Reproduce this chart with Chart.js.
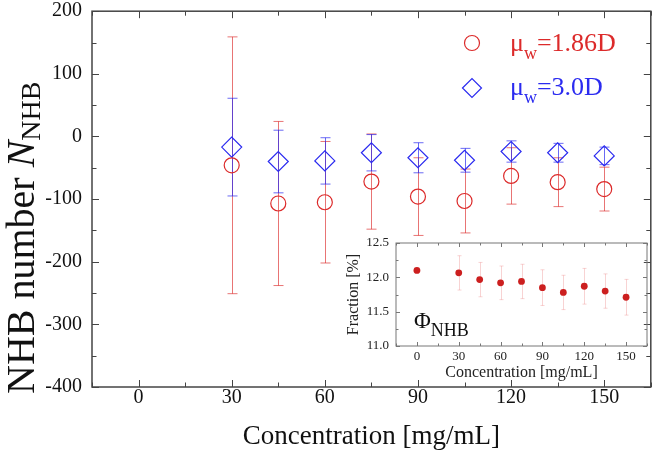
<!DOCTYPE html>
<html>
<head>
<meta charset="utf-8">
<script src="https://cdn.jsdelivr.net/npm/chart.js@4.4.1/dist/chart.umd.min.js"></script>
<style>
  html, body { margin: 0; padding: 0; background: #fff; }
  #wrap { position: relative; width: 662px; height: 466px; }
  #mainChart { position: absolute; left: 0; top: 0; }
  #insetChart { position: absolute; left: 340px; top: 232px; }
</style>
</head>
<body>
<div id="wrap">
  <canvas id="mainChart" width="662" height="466"></canvas>
  <canvas id="insetChart" width="314" height="152"></canvas>
</div>
<script>
// main panel: NHB number vs concentration
const concentrations = [30, 45, 60, 75, 90, 105, 120, 135, 150];
const nhb186 = [-46, -107, -105, -72, -96, -103, -63, -73, -84];
const nhb186Err = [205, 131, 97, 76, 62, 51, 45, 39, 35];
const nhb30 = [-17, -40, -39, -26, -34, -38, -24, -26, -31];
const nhb30Err = [78, 50, 37, 29, 24, 19, 17, 15, 14];
const xTicks = [0, 30, 60, 90, 120, 150];
const yTicks = [-400, -300, -200, -100, 0, 100, 200];

// inset: fraction of NHB
const fracConc = [0, 30, 45, 60, 75, 90, 105, 120, 135, 150];
const fraction = [12.10, 12.065, 11.967, 11.92, 11.94, 11.85, 11.78, 11.87, 11.80, 11.71];
const fractionErr = [0, 0.25, 0.25, 0.245, 0.25, 0.26, 0.25, 0.26, 0.25, 0.26];
const fracYTicks = [11.0, 11.5, 12.0, 12.5];

const RED = '#dc2a2a';
const BLUE = '#2b2bf0';
const SERIF = "'Liberation Serif', 'Times New Roman', serif";

Chart.defaults.font.family = SERIF;

// error bars drawn under the markers
const errorBars = {
  id: 'errorBars',
  beforeDatasetsDraw(chart) {
    const ctx = chart.ctx;
    const xs = chart.scales.x, ys = chart.scales.y;
    chart.data.datasets.forEach(ds => {
      if (!ds.errors) return;
      ctx.save();
      ctx.strokeStyle = ds.errorColor;
      ctx.lineWidth = 1;
      ds.data.forEach((p, i) => {
        const e = ds.errors[i];
        if (!e) return;
        const px = Math.round(xs.getPixelForValue(p.x)) + 0.5;
        const top = ys.getPixelForValue(p.y + e);
        const bot = ys.getPixelForValue(p.y - e);
        const cw = ds.capWidth;
        ctx.beginPath();
        ctx.moveTo(px, top);
        ctx.lineTo(px, bot);
        if (cw) {
          ctx.moveTo(px - cw, top); ctx.lineTo(px + cw, top);
          ctx.moveTo(px - cw, bot); ctx.lineTo(px + cw, bot);
        }
        ctx.stroke();
      });
      ctx.restore();
    });
  }
};

// box frame with inward ticks on all four sides
const frameTicks = {
  id: 'frameTicks',
  afterDatasetsDraw(chart, args, o) {
    const {ctx, chartArea: a} = chart;
    const xs = chart.scales.x, ys = chart.scales.y;
    const isMajor = (v, step) => Math.abs(v / step - Math.round(v / step)) < 1e-6;
    ctx.save();
    ctx.strokeStyle = o.color;
    ctx.lineWidth = o.width;
    ctx.strokeRect(a.left, a.top, a.right - a.left, a.bottom - a.top);
    ctx.lineWidth = 1;
    ctx.beginPath();
    for (let v = Math.ceil(xs.min / o.xMinor) * o.xMinor; v <= xs.max + 1e-9; v += o.xMinor) {
      const px = Math.round(xs.getPixelForValue(v)) + 0.5;
      const len = isMajor(v, o.xMajor) ? o.majorLen : o.minorLen;
      ctx.moveTo(px, a.bottom); ctx.lineTo(px, a.bottom - len);
      ctx.moveTo(px, a.top); ctx.lineTo(px, a.top + len);
    }
    for (let v = Math.ceil(ys.min / o.yMinor) * o.yMinor; v <= ys.max + 1e-9; v += o.yMinor) {
      const py = Math.round(ys.getPixelForValue(v)) + 0.5;
      const len = isMajor(v, o.yMajor) ? o.majorLen : o.minorLen;
      ctx.moveTo(a.left, py); ctx.lineTo(a.left + len, py);
      ctx.moveTo(a.right, py); ctx.lineTo(a.right - len, py);
    }
    ctx.stroke();
    ctx.restore();
  }
};

function drawRich(ctx, parts, x, y) {
  let cx = x;
  parts.forEach(p => {
    ctx.font = p.font;
    ctx.fillText(p.text, cx, y + (p.dy || 0));
    cx += ctx.measureText(p.text).width;
  });
}

// y title with subscript and the legend
const mainText = {
  id: 'mainText',
  afterDraw(chart) {
    const ctx = chart.ctx;
    ctx.save();
    ctx.textAlign = 'left';
    ctx.textBaseline = 'alphabetic';
    ctx.fillStyle = '#111';
    ctx.translate(34, 394);
    ctx.rotate(-Math.PI / 2);
    drawRich(ctx, [
      {text: 'NHB number ', font: '40px ' + SERIF},
      {text: 'N', font: 'italic 40px ' + SERIF},
      {text: 'NHB', font: '28px ' + SERIF, dy: 6}
    ], 0, 0);
    ctx.restore();

    ctx.save();
    ctx.lineWidth = 1.2;
    ctx.strokeStyle = RED;
    ctx.beginPath();
    ctx.arc(472, 43, 7.5, 0, Math.PI * 2);
    ctx.stroke();
    ctx.strokeStyle = BLUE;
    ctx.beginPath();
    ctx.moveTo(462.5, 88); ctx.lineTo(472, 78.5); ctx.lineTo(481.5, 88); ctx.lineTo(472, 97.5);
    ctx.closePath();
    ctx.stroke();
    ctx.textBaseline = 'alphabetic';
    ctx.fillStyle = RED;
    drawRich(ctx, [
      {text: 'μ', font: '26px ' + SERIF},
      {text: 'w', font: '18px ' + SERIF, dy: 8},
      {text: '=1.86D', font: '26px ' + SERIF}
    ], 510, 51);
    ctx.fillStyle = BLUE;
    drawRich(ctx, [
      {text: 'μ', font: '26px ' + SERIF},
      {text: 'w', font: '18px ' + SERIF, dy: 8},
      {text: '=3.0D', font: '26px ' + SERIF}
    ], 510, 95);
    ctx.restore();
  }
};

new Chart(document.getElementById('mainChart'), {
  type: 'scatter',
  data: {
    datasets: [{
      label: 'μw=1.86D',
      data: concentrations.map((c, i) => ({x: c, y: nhb186[i]})),
      errors: nhb186Err,
      errorColor: 'rgba(220,42,42,0.65)',
      capWidth: 5,
      pointStyle: 'circle',
      pointRadius: 7.5,
      pointBorderWidth: 1.2,
      borderColor: RED,
      backgroundColor: 'rgba(0,0,0,0)'
    }, {
      label: 'μw=3.0D',
      data: concentrations.map((c, i) => ({x: c, y: nhb30[i]})),
      errors: nhb30Err,
      errorColor: 'rgba(43,43,240,0.7)',
      capWidth: 5,
      pointStyle: 'rectRot',
      pointRadius: 10,
      pointBorderWidth: 1.2,
      borderColor: BLUE,
      backgroundColor: 'rgba(0,0,0,0)'
    }]
  },
  options: {
    responsive: false,
    animation: false,
    layout: {padding: {top: 9, right: 5, left: 0, bottom: 0}},
    plugins: {
      legend: {display: false},
      tooltip: {enabled: false},
      frameTicks: {color: '#444', width: 1.5, xMajor: 30, xMinor: 15, yMajor: 100, yMinor: 50, majorLen: 7, minorLen: 4.5}
    },
    scales: {
      x: {
        type: 'linear',
        min: -15,
        max: 165,
        grid: {display: false, drawTicks: false},
        border: {display: false},
        ticks: {font: {size: 20, lineHeight: 1}, color: '#111', padding: 1},
        afterBuildTicks: s => { s.ticks = xTicks.map(v => ({value: v})); },
        afterFit: s => { s.height = 79; s.paddingLeft = 0; s.paddingRight = 0; },
        title: {
          display: true,
          text: 'Concentration [mg/mL]',
          color: '#111',
          font: {size: 27, lineHeight: 1},
          padding: {top: 0, bottom: 16}
        }
      },
      y: {
        min: -400,
        max: 200,
        grid: {display: false, drawTicks: false},
        border: {display: false},
        ticks: {font: {size: 20, lineHeight: 1}, color: '#111', padding: 10},
        afterBuildTicks: s => { s.ticks = yTicks.map(v => ({value: v})); },
        afterFit: s => { s.width = 92; s.paddingTop = 0; s.paddingBottom = 0; }
      }
    }
  },
  plugins: [errorBars, frameTicks, mainText]
});

// Φ_NHB label inside the inset
const insetText = {
  id: 'insetText',
  afterDraw(chart) {
    const ctx = chart.ctx;
    ctx.save();
    ctx.fillStyle = '#111';
    ctx.textBaseline = 'alphabetic';
    ctx.textAlign = 'left';
    drawRich(ctx, [
      {text: 'Φ', font: '23px ' + SERIF},
      {text: 'NHB', font: '18px ' + SERIF, dy: 8}
    ], 74, 96);
    ctx.restore();
  }
};

new Chart(document.getElementById('insetChart'), {
  type: 'scatter',
  data: {
    datasets: [{
      label: 'Fraction',
      data: fracConc.map((c, i) => ({x: c, y: fraction[i]})),
      errors: fractionErr,
      errorColor: 'rgba(235,130,130,0.35)',
      capWidth: 2,
      pointStyle: 'circle',
      pointRadius: 3.4,
      pointBorderWidth: 0,
      backgroundColor: '#cc1f1f',
      borderColor: '#cc1f1f'
    }]
  },
  options: {
    responsive: false,
    animation: false,
    layout: {padding: {top: 11, right: 7, left: 0, bottom: 0}},
    plugins: {
      legend: {display: false},
      tooltip: {enabled: false},
      frameTicks: {color: '#777', width: 1, xMajor: 30, xMinor: 15, yMajor: 0.5, yMinor: 0.25, majorLen: 4, minorLen: 2.5}
    },
    scales: {
      x: {
        type: 'linear',
        min: -15,
        max: 165,
        grid: {display: false, drawTicks: false},
        border: {display: false},
        ticks: {font: {size: 13, lineHeight: 1}, color: '#222', padding: 4},
        afterBuildTicks: s => { s.ticks = fracConc.filter(v => v % 30 === 0).map(v => ({value: v})); },
        afterFit: s => { s.height = 38; s.paddingLeft = 0; s.paddingRight = 0; },
        title: {
          display: true,
          text: 'Concentration [mg/mL]',
          color: '#222',
          font: {size: 16, lineHeight: 1},
          padding: {top: 0, bottom: 3}
        }
      },
      y: {
        min: 11.0,
        max: 12.5,
        grid: {display: false, drawTicks: false},
        border: {display: false},
        ticks: {font: {size: 13, lineHeight: 1}, color: '#222', padding: 7, callback: v => v.toFixed(1)},
        afterBuildTicks: s => { s.ticks = fracYTicks.map(v => ({value: v})); },
        afterFit: s => { s.width = 56; s.paddingTop = 0; s.paddingBottom = 0; },
        title: {
          display: true,
          text: 'Fraction [%]',
          color: '#222',
          font: {size: 16, lineHeight: 1},
          padding: {top: 6, bottom: 0}
        }
      }
    }
  },
  plugins: [errorBars, frameTicks, insetText]
});
</script>
</body>
</html>
